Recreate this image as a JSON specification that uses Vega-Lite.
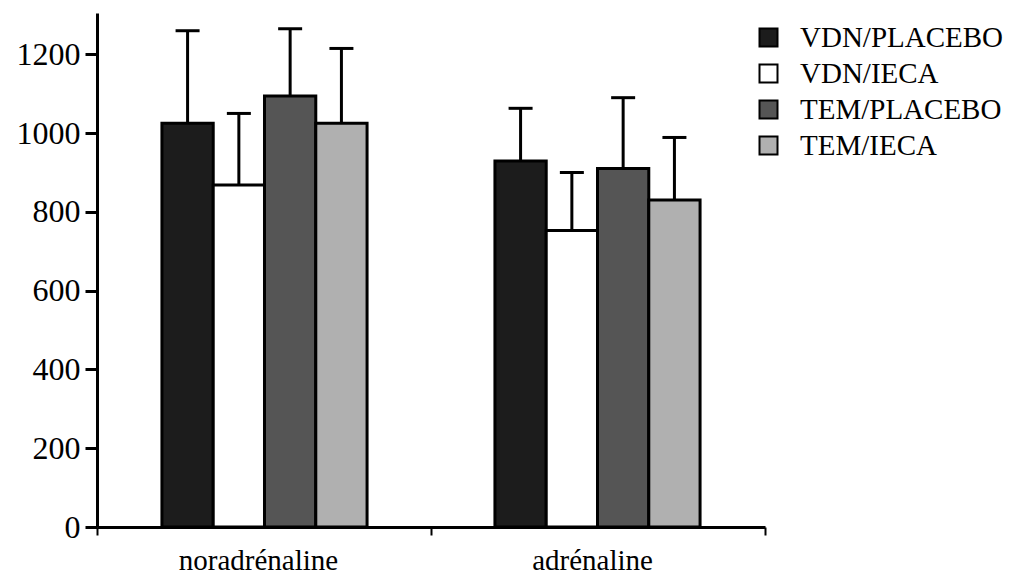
{
  "$schema": "https://vega.github.io/schema/vega-lite/v6.json",
  "width": 668,
  "height": 514,
  "autosize": {"type": "none"},
  "padding": {"left": 97, "top": 13, "right": 264, "bottom": 54},
  "background": "white",
  "config": {
    "view": {"stroke": null},
    "font": "Liberation Serif"
  },
  "data": {
    "values": [
      {"category": "noradrénaline", "group": "VDN/PLACEBO", "value": 1025, "upper": 1260},
      {"category": "noradrénaline", "group": "VDN/IECA", "value": 868, "upper": 1050},
      {"category": "noradrénaline", "group": "TEM/PLACEBO", "value": 1094, "upper": 1265},
      {"category": "noradrénaline", "group": "TEM/IECA", "value": 1025, "upper": 1215},
      {"category": "adrénaline", "group": "VDN/PLACEBO", "value": 929, "upper": 1063},
      {"category": "adrénaline", "group": "VDN/IECA", "value": 753, "upper": 900},
      {"category": "adrénaline", "group": "TEM/PLACEBO", "value": 910, "upper": 1090},
      {"category": "adrénaline", "group": "TEM/IECA", "value": 830, "upper": 989}
    ]
  },
  "layer": [
    {
      "mark": {"type": "tick", "opacity": 0},
      "encoding": {
        "x": {
          "field": "category",
          "type": "nominal",
          "sort": ["noradrénaline", "adrénaline"],
          "scale": {"paddingInner": 0, "paddingOuter": 0},
          "axis": {
            "title": null,
            "labelAngle": 0,
            "tickBand": "extent",
            "domainColor": "black",
            "domainWidth": 3,
            "tickColor": "black",
            "tickWidth": 2,
            "tickSize": 8,
            "labelFont": "Liberation Serif",
            "labelFontSize": 29,
            "labelColor": "black",
            "labelPadding": 11,
            "labelOffset": -6
          }
        }
      }
    },
    {
      "encoding": {
        "x": {
          "field": "category",
          "type": "nominal",
          "sort": ["noradrénaline", "adrénaline"],
          "scale": {"paddingInner": 0.384, "paddingOuter": 0.195},
          "axis": null
        },
        "xOffset": {
          "field": "group",
          "type": "nominal",
          "sort": ["VDN/PLACEBO", "VDN/IECA", "TEM/PLACEBO", "TEM/IECA"],
          "scale": {"paddingInner": 0, "paddingOuter": 0}
        }
      },
      "layer": [
        {
          "mark": {"type": "bar", "stroke": "black", "strokeWidth": 3},
          "encoding": {
            "y": {
              "field": "value",
              "type": "quantitative",
              "scale": {"domain": [0, 1305], "nice": false, "zero": true},
              "axis": {
                "title": null,
                "grid": false,
                "format": "d",
                "values": [0, 200, 400, 600, 800, 1000, 1200],
                "domainColor": "black",
                "domainWidth": 3,
                "tickColor": "black",
                "tickWidth": 3,
                "tickSize": 12,
                "labelFont": "Liberation Serif",
                "labelFontSize": 32,
                "labelColor": "black",
                "labelPadding": 5
              }
            },
            "color": {
              "field": "group",
              "type": "nominal",
              "sort": ["VDN/PLACEBO", "VDN/IECA", "TEM/PLACEBO", "TEM/IECA"],
              "scale": {
                "domain": ["VDN/PLACEBO", "VDN/IECA", "TEM/PLACEBO", "TEM/IECA"],
                "range": ["#1c1c1c", "#ffffff", "#555555", "#b0b0b0"]
              },
              "legend": {
                "title": null,
                "orient": "none",
                "legendX": 657,
                "legendY": 10,
                "symbolType": "square",
                "symbolSize": 324,
                "symbolStrokeColor": "black",
                "symbolStrokeWidth": 2,
                "symbolOpacity": 1,
                "labelFont": "Liberation Serif",
                "labelFontSize": 29,
                "labelColor": "black",
                "labelOffset": 17,
                "rowPadding": 6,
                "labelLimit": 400
              }
            }
          }
        },
        {
          "mark": {"type": "rule", "color": "black", "strokeWidth": 3},
          "encoding": {
            "y": {"field": "value", "type": "quantitative"},
            "y2": {"field": "upper"}
          }
        },
        {
          "mark": {"type": "tick", "color": "black", "thickness": 3, "size": 24, "orient": "horizontal", "opacity": 1},
          "encoding": {
            "y": {"field": "upper", "type": "quantitative"}
          }
        }
      ]
    }
  ],
  "resolve": {"scale": {"x": "independent"}, "axis": {"x": "independent"}}
}
